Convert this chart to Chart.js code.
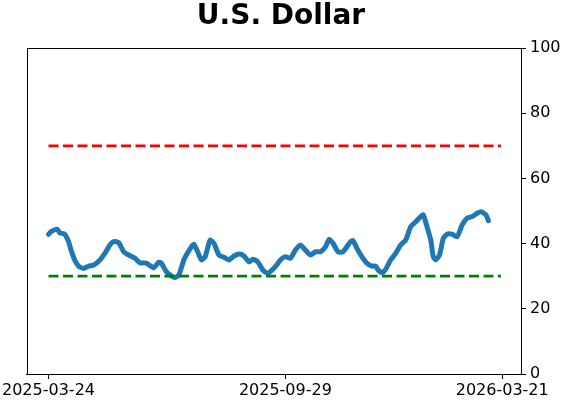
<!DOCTYPE html>
<html>
<head>
<meta charset="utf-8">
<script src="https://cdn.jsdelivr.net/npm/chart.js@4.4.1/dist/chart.umd.min.js"></script>
<style>
  html, body { margin: 0; padding: 0; background: #fff; }
  #wrap { width: 562px; height: 402px; }
</style>
</head>
<body>
<div id="wrap"><canvas id="chart" width="562" height="402"></canvas></div>
<script>
// Data
const startDate = '2025-03-24';
const dates = [
  '2025-03-24', '2025-03-26', '2025-03-31', '2025-04-02', '2025-04-06', '2025-04-09', '2025-04-11',
  '2025-04-14', '2025-04-17', '2025-04-21', '2025-04-25', '2025-04-29', '2025-05-04', '2025-05-08',
  '2025-05-12', '2025-05-15', '2025-05-19', '2025-05-23', '2025-05-27', '2025-06-01', '2025-06-05',
  '2025-06-10', '2025-06-16', '2025-06-20', '2025-06-22', '2025-06-26', '2025-06-30', '2025-07-03',
  '2025-07-06', '2025-07-10', '2025-07-12', '2025-07-16', '2025-07-18', '2025-07-21', '2025-07-24',
  '2025-07-27', '2025-07-30', '2025-07-31', '2025-08-03', '2025-08-07', '2025-08-11', '2025-08-15',
  '2025-08-19', '2025-08-23', '2025-08-27', '2025-08-31', '2025-09-03', '2025-09-07', '2025-09-11',
  '2025-09-15', '2025-09-17', '2025-09-21', '2025-09-25', '2025-09-29', '2025-10-03', '2025-10-07',
  '2025-10-11', '2025-10-15', '2025-10-19', '2025-10-23', '2025-10-27', '2025-10-31', '2025-11-03',
  '2025-11-06', '2025-11-10', '2025-11-14', '2025-11-20', '2025-11-22', '2025-11-25', '2025-11-29',
  '2025-12-03', '2025-12-07', '2025-12-10', '2025-12-12', '2025-12-15', '2025-12-18', '2025-12-22',
  '2025-12-26', '2025-12-30', '2026-01-03', '2026-01-07', '2026-01-11', '2026-01-15', '2026-01-17',
  '2026-01-20', '2026-01-23', '2026-01-25', '2026-01-27', '2026-01-30', '2026-02-02', '2026-02-05',
  '2026-02-09', '2026-02-13', '2026-02-17', '2026-02-21', '2026-02-25', '2026-03-01', '2026-03-04',
  '2026-03-08', '2026-03-10'
];
const values = [
  42.8, 43.7, 44.4, 43.3, 42.9, 40.6, 38.0,
  34.9, 33.1, 32.4, 33.1, 33.4, 35.0, 37.0,
  39.6, 40.6, 40.3, 37.5, 36.5, 35.5, 34.1,
  34.0, 32.6, 34.3, 34.0, 31.4, 30.1, 29.6,
  30.4, 35.0, 36.5, 39.0, 39.8, 37.5, 35.0,
  36.0, 40.1, 41.1, 40.1, 36.5, 35.8, 35.0,
  36.2, 36.8, 36.2, 34.4, 35.2, 34.4, 31.9,
  30.9, 31.4, 32.9, 35.0, 36.0, 35.5, 38.0,
  39.6, 38.0, 36.5, 37.5, 37.5, 39.0, 41.3,
  40.1, 37.5, 37.5, 40.6, 40.9, 38.6, 36.0,
  34.0, 33.1, 33.1, 31.9, 31.1, 32.1, 35.0,
  37.0, 39.6, 41.1, 45.2, 46.7, 48.3, 48.8,
  45.2, 41.1, 36.0, 35.0, 36.5, 41.6, 42.9,
  42.9, 42.1, 45.7, 47.8, 48.3, 49.3, 49.8,
  48.8, 47.0
];
const upperLevel = 70;
const lowerLevel = 30;
const levelDates = ['2025-03-24', '2026-03-20'];
const xTickDates = ['2025-03-24', '2025-09-29', '2026-03-21'];
const yTicks = [0, 20, 40, 60, 80, 100];

// days since start date
function hariKe(d) {
  return (Date.parse(d + 'T00:00:00Z') - Date.parse(startDate + 'T00:00:00Z')) / 86400000;
}
function keTanggal(n) {
  const t = new Date(Date.parse(startDate + 'T00:00:00Z') + Math.round(n) * 86400000);
  return t.toISOString().slice(0, 10);
}

const seriesPoints = dates.map((d, i) => ({ x: hariKe(d), y: values[i] }));
const upperPoints = levelDates.map(d => ({ x: hariKe(d), y: upperLevel }));
const lowerPoints = levelDates.map(d => ({ x: hariKe(d), y: lowerLevel }));

// box around plot area (top + left spines)
const kotakPlot = {
  id: 'kotakPlot',
  afterDraw(chart) {
    const { ctx, chartArea: a } = chart;
    ctx.save();
    ctx.strokeStyle = '#000';
    ctx.lineWidth = 1;
    ctx.strokeRect(Math.round(a.left) + 0.5, Math.round(a.top) + 0.5,
      Math.round(a.right - a.left), Math.round(a.bottom - a.top));
    ctx.restore();
  }
};

const fontUmum = { family: 'DejaVu Sans', size: 16 };

const ctx = document.getElementById('chart').getContext('2d');
const chart = new Chart(ctx, {
  type: 'line',
  data: {
    datasets: [
      {
        label: 'upper',
        data: upperPoints,
        borderColor: '#ff0000',
        borderWidth: 2.8,
        borderDash: [10, 4.5],
        pointRadius: 0,
      },
      {
        label: 'lower',
        data: lowerPoints,
        borderColor: '#008000',
        borderWidth: 2.8,
        borderDash: [10, 4.5],
        pointRadius: 0,
      },
      {
        label: 'U.S. Dollar',
        data: seriesPoints,
        borderColor: '#1f77b4',
        borderWidth: 5,
        pointRadius: 0,
        tension: 0.2,
        borderCapStyle: 'round',
        borderJoinStyle: 'round',
      },
    ],
  },
  options: {
    responsive: false,
    animation: false,
    layout: { padding: { left: 0, right: 0, top: 0, bottom: 0 } },
    scales: {
      x: {
        type: 'linear',
        min: -17.3,
        max: 377,
        afterBuildTicks: (scale) => {
          scale.ticks = xTickDates.map(d => ({ value: hariKe(d) }));
        },
        afterFit: (scale) => { scale.height = 28; },
        ticks: {
          color: '#000',
          font: fontUmum,
          padding: 2,
          maxRotation: 0,
          autoSkip: false,
          callback: (value) => keTanggal(value),
        },
        grid: {
          drawOnChartArea: false,
          color: '#000',
          tickLength: 5,
        },
        border: { color: '#000', width: 1 },
      },
      y: {
        position: 'right',
        min: 0,
        max: 100,
        afterBuildTicks: (scale) => {
          scale.ticks = yTicks.map(v => ({ value: v }));
        },
        afterFit: (scale) => { scale.width = 41; },
        ticks: {
          color: '#000',
          font: fontUmum,
          padding: 4,
        },
        grid: {
          drawOnChartArea: false,
          color: '#000',
          tickLength: 5,
        },
        border: { color: '#000', width: 1 },
      },
    },
    plugins: {
      legend: { display: false },
      tooltip: { enabled: false },
      title: {
        display: true,
        text: 'U.S. Dollar',
        color: '#000',
        font: { family: 'DejaVu Sans', size: 28, weight: 'bold', lineHeight: 1 },
        padding: { top: 3, bottom: 17 },
      },
    },
  },
  plugins: [kotakPlot],
});
</script>
</body>
</html>
